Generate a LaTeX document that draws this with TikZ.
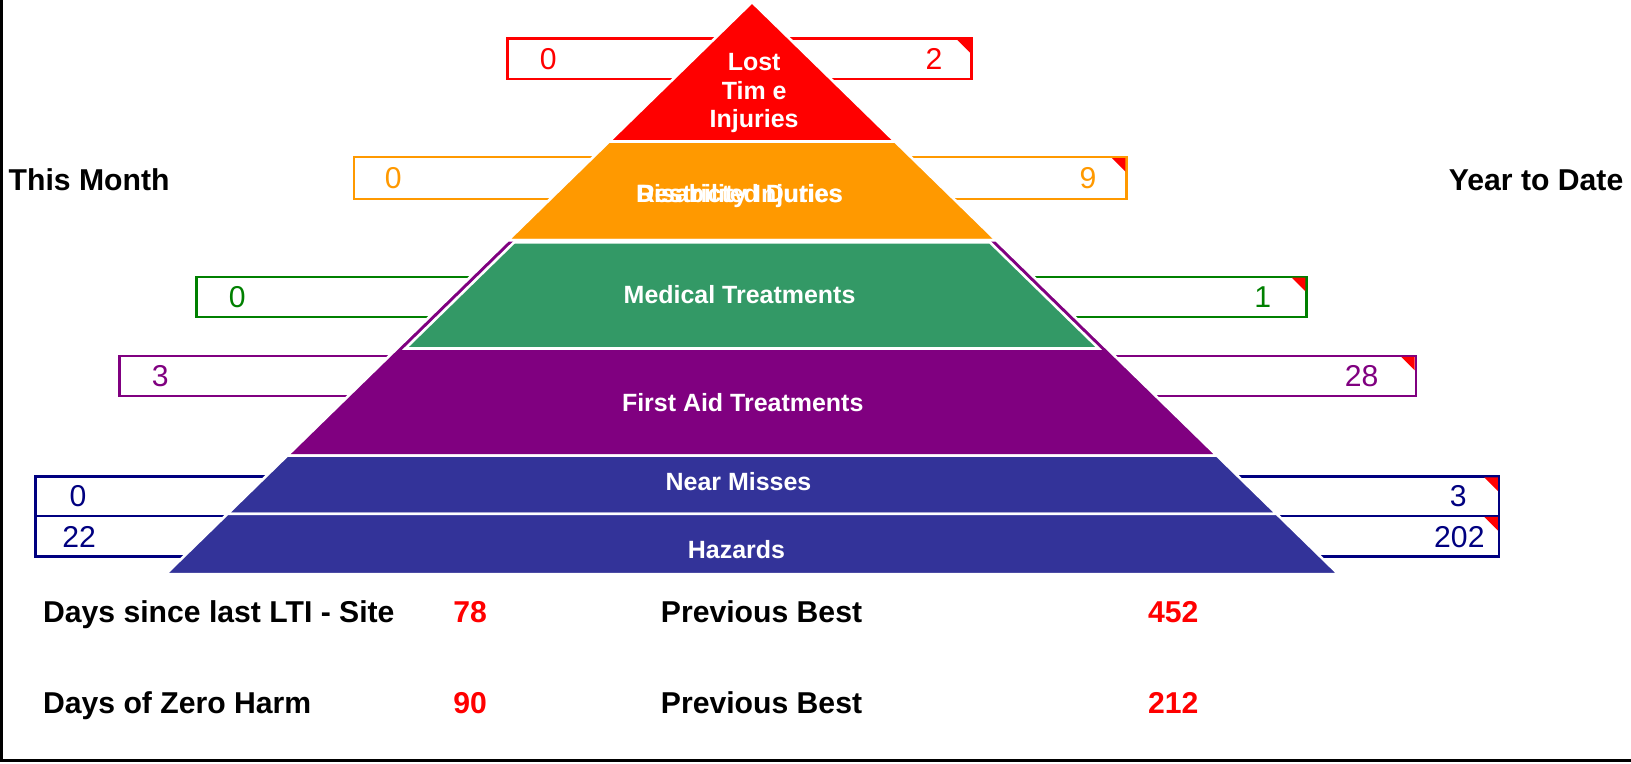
\documentclass[tikz,border=0pt]{standalone}
\usepackage{fontspec}
\setmainfont{Liberation Sans}
\definecolor{cRed}{HTML}{FF0000}
\definecolor{cOrange}{HTML}{FF9900}
\definecolor{cGreenF}{HTML}{339966}
\definecolor{cGreen}{HTML}{008000}
\definecolor{cPurple}{HTML}{800080}
\definecolor{cNavyF}{HTML}{333399}
\definecolor{cNavy}{HTML}{000080}
\tikzset{
  boxframe/.style={line width=1.1pt, fill=white},
  numtxt/.style={font=\fontsize{14.5}{17}\selectfont, anchor=center, inner sep=0pt},
  laytxt/.style={font=\fontsize{12}{14}\selectfont\bfseries, text=white, anchor=base, inner sep=0pt},
  bigtxt/.style={font=\fontsize{14.5}{17}\selectfont\bfseries, anchor=base, inner sep=0pt},
  layer/.style={draw=white, line width=1.25pt, line join=miter},
}
\begin{document}
\begin{tikzpicture}[x=0.5pt,y=-0.5pt]
\useasboundingbox (0,0) rectangle (1568,734);
% frame (left and bottom)
\draw[line width=1.3pt] (1.3,0) -- (1.3,731) -- (1568,731);

% boxes behind the pyramid
\draw[boxframe, draw=cRed] (488,37) rectangle (934,76);
\fill[cRed] (920,38) -- (933,38) -- (933,51) -- cycle;
\draw[boxframe, draw=cOrange] (340,151) rectangle (1083,191);
\fill[cRed] (1069,152) -- (1082,152) -- (1082,165) -- cycle;
\draw[boxframe, draw=cGreen] (189,266) rectangle (1256,305);
\fill[cRed] (1242,267) -- (1255,267) -- (1255,280) -- cycle;
\draw[boxframe, draw=cPurple] (115,342) rectangle (1361,381);
\fill[cRed] (1347,343) -- (1360,343) -- (1360,356) -- cycle;
\draw[boxframe, draw=cNavy] (34,458) rectangle (1441,496);
\fill[cRed] (1427,459) -- (1440,459) -- (1440,472) -- cycle;
\draw[boxframe, draw=cNavy] (34,496) rectangle (1441,535);
\fill[cRed] (1427,497) -- (1440,497) -- (1440,510) -- cycle;

% numbers
\node[numtxt, text=cRed] (m1) at (527,57) {0};
\node[numtxt, text=cRed] (y1) at (898,57) {2};
\node[numtxt, text=cOrange] (m2) at (378,171) {0};
\node[numtxt, text=cOrange] (y2) at (1046,171) {9};
\node[numtxt, text=cGreen] (m3) at (228,286) {0};
\node[numtxt, text=cGreen] (y3) at (1214,286) {1};
\node[numtxt, text=cPurple] (m4) at (154,362) {3};
\node[numtxt, text=cPurple] (y4) at (1309,362) {28};
\node[numtxt, text=cNavy] (m5) at (75,477) {0};
\node[numtxt, text=cNavy] (y5) at (1402,477) {3};
\node[numtxt, text=cNavy] (m6) at (76,516) {22};
\node[numtxt, text=cNavy] (y6) at (1403,516) {202};

% pyramid layers
\filldraw[layer, fill=cRed] (723,2) -- (860.35,136) -- (585.65,136) -- cycle;
\filldraw[layer, fill=cOrange] (585.65,136) -- (860.35,136) -- (957.7,231) -- (488.3,231) -- cycle;
\filldraw[layer, fill=cPurple] (488.3,231) -- (957.7,231) -- (1169.9,438) -- (276.1,438) -- cycle;
\filldraw[layer, fill=cGreenF] (494.2,233) -- (951.8,233) -- (1056.3,335) -- (389.7,335) -- cycle;
\filldraw[layer, fill=cNavyF] (276.1,438) -- (1169.9,438) -- (1227.3,494) -- (218.7,494) -- cycle;
\filldraw[layer, fill=cNavyF] (218.7,494) -- (1227.3,494) -- (1286.75,552) -- (159.25,552) -- cycle;

% layer labels
\node[laytxt] (lt1) at (725,67.5) {Lost};
\node[laytxt] (lt2) at (725,95.5) {Tim e};
\node[laytxt] (lt3) at (725,122.5) {Injuries};
\node[laytxt] (di) at (711,194.5) {Disability Injuries};
\node[laytxt] (rd) at (711,194.5) {Restricted Duties};
\node[laytxt] (mt) at (711,291.5) {Medical Treatments};
\node[laytxt] (fa) at (714,395.5) {First Aid Treatments};
\node[laytxt] (nm) at (710,471.5) {Near Misses};
\node[laytxt] (hz) at (708,536.5) {Hazards};

% side headings
\node[bigtxt, anchor=base west] (tm) at (8,183.5) {This Month};
\node[bigtxt, anchor=base east] (ytd) at (1561,183.5) {Year to Date};

% bottom statistics
\node[bigtxt, anchor=base west] (s1) at (41,598.5) {Days since last LTI - Site};
\node[bigtxt, text=cRed] (v1) at (452,598.5) {78};
\node[bigtxt, anchor=base west] (p1) at (635,598.5) {Previous Best};
\node[bigtxt, text=cRed] (b1) at (1128,598.5) {452};
\node[bigtxt, anchor=base west] (s2) at (41,685.5) {Days of Zero Harm};
\node[bigtxt, text=cRed] (v2) at (452,685.5) {90};
\node[bigtxt, anchor=base west] (p2) at (635,685.5) {Previous Best};
\node[bigtxt, text=cRed] (b2) at (1128,685.5) {212};
\end{tikzpicture}
\end{document}
